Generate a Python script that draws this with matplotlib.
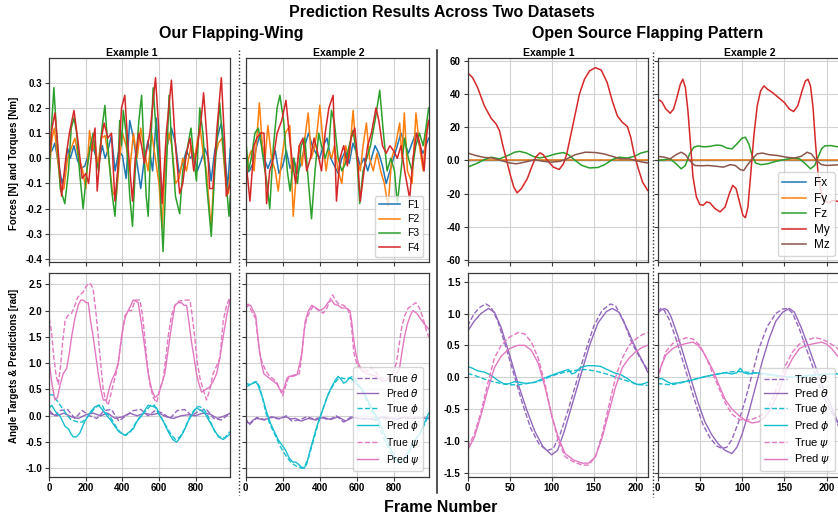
import matplotlib.pyplot as plt
import numpy as np
from matplotlib.lines import Line2D

plt.rcParams['font.family'] = ['Liberation Sans', 'DejaVu Sans']
plt.rcParams['axes.unicode_minus'] = False
plt.rcParams['mathtext.fontset'] = 'dejavusans'

# ---------------- data (frame, value) ----------------
# Our Flapping-Wing, forces, Example 1
ow1_f1 = [(0, 0.03), (15, 0.03), (30, 0.06), (50, -0.02), (70, -0.1), (85, -0.06), (100, 0.04), (115, 0.0),
          (135, 0.05), (155, -0.01), (175, -0.04), (195, -0.03), (215, 0.02), (230, 0.06), (250, 0.02),
          (270, -0.02), (290, 0.05), (305, 0.0), (320, 0.03), (340, 0.09), (360, -0.05), (380, 0.03),
          (400, 0.01), (420, -0.08), (440, 0.15), (460, 0.08), (480, -0.02), (500, -0.12), (520, 0.0),
          (540, 0.07), (565, -0.05), (585, 0.16), (600, 0.0), (620, -0.15), (645, 0.05), (668, 0.12),
          (690, 0.06), (710, -0.06), (730, -0.02), (750, 0.03), (770, 0.0), (790, 0.02), (810, -0.05),
          (830, -0.01), (850, 0.04), (870, 0.0), (885, -0.09), (905, 0.03), (925, 0.1), (941, 0.14),
          (960, 0.02), (975, -0.12), (990, 0.04)]
ow1_f2 = [(0, -0.05), (15, 0.08), (28, 0.12), (45, 0.0), (65, -0.13), (80, -0.12), (100, 0.0), (120, 0.04),
          (140, 0.08), (160, 0.0), (180, -0.04), (200, -0.12), (220, 0.11), (235, 0.03), (250, 0.07),
          (265, -0.03), (285, 0.08), (305, 0.09), (325, 0.0), (345, -0.13), (365, -0.16), (385, 0.0),
          (400, 0.1), (420, 0.05), (440, -0.05), (460, 0.1), (480, 0.0), (500, 0.12), (515, 0.05),
          (540, -0.05), (560, 0.1), (580, 0.0), (600, -0.1), (617, -0.28), (635, 0.0), (655, 0.1),
          (670, 0.05), (690, -0.1), (710, -0.08), (730, 0.0), (750, -0.05), (775, 0.05), (795, 0.0),
          (810, 0.07), (825, 0.12), (845, 0.0), (860, -0.05), (885, -0.28), (905, 0.0), (925, 0.06),
          (945, 0.08), (965, -0.1), (980, -0.14), (990, -0.05)]
ow1_f3 = [(0, -0.1), (10, 0.1), (25, 0.28), (40, 0.1), (60, -0.12), (85, -0.18), (105, -0.05), (120, 0.12),
          (135, 0.16), (150, 0.1), (165, -0.05), (185, -0.2), (205, -0.05), (225, 0.05), (240, 0.1),
          (255, 0.0), (270, -0.05), (285, 0.1), (304, 0.21), (320, 0.05), (340, -0.12), (359, -0.23),
          (375, -0.05), (385, 0.15), (395, 0.05), (405, 0.19), (420, 0.1), (440, -0.15), (455, -0.27),
          (470, -0.05), (490, 0.15), (505, 0.25), (520, 0.0), (530, -0.15), (541, -0.23), (555, 0.05),
          (568, 0.28), (585, 0.1), (605, -0.1), (622, -0.37), (640, -0.05), (655, 0.25), (670, 0.05),
          (690, -0.15), (713, -0.22), (730, -0.05), (750, 0.02), (775, 0.12), (790, 0.0), (805, -0.09),
          (823, 0.2), (840, 0.1), (860, -0.1), (886, -0.31), (905, -0.05), (920, 0.1), (932, 0.22),
          (950, 0.05), (968, -0.1), (983, -0.23), (990, -0.15)]
ow1_f4 = [(0, 0.0), (15, 0.12), (31, 0.18), (50, 0.02), (67, -0.15), (90, 0.0), (110, 0.1), (135, 0.19),
          (160, 0.05), (180, -0.08), (200, -0.06), (215, -0.1), (235, 0.05), (250, 0.12), (262, -0.13),
          (285, 0.08), (300, 0.14), (320, 0.08), (340, 0.1), (359, -0.17), (380, 0.0), (395, 0.2),
          (413, 0.25), (430, 0.05), (455, -0.17), (470, 0.0), (490, 0.1), (505, 0.05), (520, -0.02),
          (550, 0.1), (581, 0.32), (600, 0.1), (617, -0.18), (640, 0.1), (668, 0.31), (690, 0.05),
          (713, -0.14), (730, -0.1), (750, 0.02), (770, 0.08), (790, -0.05), (810, 0.05), (830, 0.15),
          (844, 0.26), (865, 0.05), (877, -0.12), (895, -0.12), (915, 0.1), (941, 0.32), (960, 0.05),
          (968, -0.15), (990, -0.1)]

# Our Flapping-Wing, forces, Example 2
ow2_f1 = [(0, -0.06), (20, -0.05), (40, -0.02), (60, 0.05), (80, 0.1), (100, 0.0), (120, -0.04), (140, 0.0),
          (160, 0.03), (180, -0.06), (200, -0.03), (220, 0.03), (240, -0.04), (260, 0.0), (280, -0.06),
          (300, -0.02), (320, 0.05), (340, 0.1), (360, 0.05), (380, 0.02), (400, 0.0), (420, 0.05),
          (440, 0.08), (460, 0.0), (480, -0.03), (500, -0.06), (520, 0.0), (540, 0.03), (560, -0.02),
          (580, 0.06), (600, 0.02), (620, -0.03), (640, 0.0), (660, -0.05), (680, 0.0), (700, 0.05),
          (720, 0.02), (740, -0.03), (760, -0.1), (780, -0.05), (800, 0.0), (820, 0.05), (840, 0.1),
          (860, 0.06), (880, 0.02), (900, 0.06), (920, 0.1), (940, 0.05), (960, 0.02), (975, 0.05), (990, 0.08)]
ow2_f2 = [(0, -0.08), (15, 0.0), (30, 0.03), (45, -0.05), (60, 0.08), (74, 0.22), (90, 0.05), (105, 0.0),
          (120, 0.13), (140, 0.0), (160, -0.05), (176, -0.13), (195, 0.0), (215, 0.1), (239, 0.13),
          (257, -0.23), (275, -0.05), (290, 0.05), (305, -0.03), (320, 0.08), (338, 0.18), (355, 0.0),
          (370, 0.04), (385, 0.1), (401, 0.21), (420, 0.05), (435, -0.05), (450, 0.03), (465, 0.0),
          (480, 0.05), (500, -0.05), (520, -0.1), (540, 0.05), (560, 0.0), (581, 0.19), (600, 0.0),
          (620, -0.05), (635, 0.05), (653, 0.14), (670, 0.0), (690, -0.05), (710, 0.02), (730, -0.05),
          (750, -0.1), (770, -0.19), (790, 0.0), (810, 0.05), (833, 0.14), (845, 0.0), (858, 0.18),
          (875, -0.05), (900, -0.1), (921, 0.18), (940, 0.05), (960, -0.05), (975, 0.1), (990, 0.15)]
ow2_f3 = [(0, 0.08), (15, -0.05), (30, 0.0), (50, 0.1), (68, 0.12), (85, 0.05), (100, -0.03), (115, -0.1),
          (130, -0.2), (150, 0.05), (170, 0.2), (185, 0.25), (205, 0.15), (225, -0.05), (240, -0.13),
          (260, 0.0), (280, -0.1), (300, 0.05), (320, 0.08), (340, -0.1), (356, -0.24), (375, -0.05),
          (395, 0.1), (410, 0.05), (430, 0.0), (450, 0.05), (464, 0.19), (480, 0.14), (500, 0.0),
          (520, -0.05), (540, -0.02), (560, 0.05), (580, 0.11), (600, 0.02), (617, -0.18), (635, -0.05),
          (655, 0.0), (675, 0.05), (700, 0.15), (725, 0.27), (745, 0.1), (765, -0.05), (785, 0.0),
          (805, -0.05), (820, -0.18), (840, -0.05), (860, 0.08), (880, 0.0), (900, -0.05), (920, 0.05),
          (940, 0.1), (960, 0.05), (975, 0.12), (990, 0.2)]
ow2_f4 = [(0, 0.0), (23, -0.17), (45, 0.05), (60, 0.08), (80, 0.1), (99, 0.1), (113, -0.18), (130, -0.05),
          (150, 0.0), (170, 0.1), (195, 0.15), (218, 0.23), (235, 0.1), (250, 0.0), (270, -0.1), (290, 0.05),
          (310, 0.08), (330, -0.05), (350, 0.0), (370, 0.08), (390, 0.02), (410, -0.05), (430, 0.1),
          (450, 0.2), (473, 0.25), (491, -0.17), (510, 0.0), (530, 0.05), (550, -0.03), (570, 0.08),
          (590, 0.12), (605, 0.0), (620, -0.17), (640, -0.05), (660, 0.05), (680, 0.1), (705, 0.2),
          (720, 0.15), (740, 0.05), (760, 0.02), (780, 0.05), (800, 0.03), (820, 0.0), (840, 0.05),
          (860, -0.05), (887, -0.16), (905, 0.0), (925, 0.1), (945, 0.05), (965, -0.05), (980, 0.1), (990, 0.15)]

# Our Flapping-Wing, angles, Example 1
ow1_true_theta = [(0, 0.1), (30, 0.0), (60, 0.1), (100, 0.12), (140, -0.05), (180, 0.1), (220, 0.0),
                  (260, -0.05), (300, 0.1), (340, 0.12), (380, -0.1), (420, 0.0), (460, 0.1), (500, 0.12),
                  (540, 0.0), (580, 0.1), (620, 0.05), (660, -0.05), (700, 0.1), (740, 0.12), (780, 0.0),
                  (820, 0.1), (860, 0.12), (900, -0.05), (940, -0.08), (990, 0.05)]
ow1_pred_theta = [(0, 0.05), (40, 0.0), (80, 0.05), (120, -0.02), (160, -0.05), (200, 0.02), (240, 0.05),
                  (280, 0.0), (320, 0.05), (360, -0.05), (400, -0.02), (440, 0.05), (480, 0.0), (520, 0.05),
                  (560, 0.02), (600, 0.05), (640, -0.02), (680, -0.05), (720, 0.0), (760, 0.02), (800, 0.0),
                  (840, 0.05), (880, 0.03), (920, -0.05), (960, 0.0), (990, 0.05)]
ow1_true_phi = [(0, 0.4), (20, 0.4), (40, 0.3), (60, 0.2), (80, 0.1), (100, 0.0), (120, -0.08), (140, -0.1),
                (160, -0.12), (180, -0.12), (200, -0.05), (215, 0.0), (235, 0.08), (250, 0.15), (270, 0.2),
                (290, 0.2), (310, 0.05), (330, 0.0), (355, -0.15), (380, -0.28), (400, -0.35), (420, -0.37),
                (445, -0.3), (470, -0.15), (500, 0.0), (530, 0.1), (555, 0.2), (575, 0.2), (595, 0.05),
                (615, -0.05), (640, -0.2), (665, -0.35), (690, -0.45), (715, -0.4), (740, -0.25), (765, -0.05),
                (790, 0.1), (815, 0.18), (840, 0.15), (860, 0.05), (880, -0.1), (905, -0.3), (930, -0.4),
                (960, -0.42), (988, -0.3)]
ow1_pred_phi = [(0, 0.15), (13, 0.2), (30, 0.1), (45, 0.03), (58, 0.0), (72, -0.1), (86, -0.2), (105, -0.25),
                (120, -0.35), (131, -0.4), (149, -0.4), (168, -0.32), (182, -0.2), (195, -0.1), (213, 0.0),
                (231, 0.1), (250, 0.17), (268, 0.2), (282, 0.15), (295, 0.1), (315, 0.0), (335, -0.08),
                (359, -0.2), (380, -0.3), (414, -0.37), (440, -0.3), (459, -0.25), (480, -0.1), (505, 0.0),
                (525, 0.12), (541, 0.2), (565, 0.18), (587, 0.15), (605, 0.0), (623, -0.1), (650, -0.3),
                (675, -0.45), (696, -0.5), (715, -0.42), (735, -0.3), (760, -0.1), (785, 0.05), (805, 0.15),
                (830, 0.1), (851, 0.05), (875, -0.1), (900, -0.25), (925, -0.4), (951, -0.45), (970, -0.4),
                (988, -0.35)]
ow1_true_psi = [(0, 1.85), (12, 1.6), (25, 1.1), (38, 0.75), (49, 0.6), (60, 0.9), (73, 1.4), (86, 1.8),
                (100, 1.9), (122, 1.95), (140, 2.1), (155, 2.25), (168, 2.3), (185, 2.35), (200, 2.45),
                (215, 2.52), (228, 2.5), (240, 2.4), (254, 2.0), (268, 1.5), (281, 1.0), (295, 0.5), (308, 0.3),
                (322, 0.2), (336, 0.4), (350, 0.6), (365, 0.8), (377, 1.0), (395, 1.5), (414, 1.9), (432, 2.0),
                (450, 2.0), (470, 2.2), (485, 2.2), (496, 2.2), (510, 1.9), (522, 1.5), (535, 1.0), (550, 0.6),
                (568, 0.35), (587, 0.25), (605, 0.5), (623, 0.7), (637, 1.1), (650, 1.5), (668, 1.9), (687, 2.1),
                (710, 2.18), (740, 2.2), (769, 2.2), (782, 1.9), (795, 1.5), (810, 1.0), (825, 0.7), (842, 0.5),
                (860, 0.3), (878, 0.5), (896, 0.8), (915, 0.95), (933, 1.1), (951, 1.8), (970, 2.1), (988, 2.25)]
ow1_pred_psi = [(0, 1.0), (15, 0.6), (31, 0.3), (45, 0.35), (60, 0.6), (76, 0.8), (95, 0.9), (110, 1.2),
                (122, 1.5), (140, 1.85), (158, 2.1), (172, 2.2), (186, 2.2), (200, 2.15), (213, 2.15),
                (226, 1.8), (240, 1.5), (254, 1.15), (268, 0.8), (282, 0.5), (295, 0.3), (313, 0.3), (330, 0.55),
                (345, 0.7), (359, 0.8), (377, 1.0), (390, 1.35), (404, 1.7), (418, 1.9), (432, 2.0), (446, 2.1),
                (459, 2.2), (472, 2.18), (486, 2.15), (500, 1.85), (514, 1.5), (528, 1.15), (541, 0.8),
                (560, 0.5), (578, 0.35), (596, 0.4), (614, 0.6), (632, 0.8), (646, 1.15), (660, 1.5), (673, 1.8),
                (687, 2.1), (705, 2.15), (723, 2.15), (737, 2.1), (751, 2.1), (765, 1.75), (778, 1.4), (792, 1.1),
                (805, 0.8), (819, 0.6), (833, 0.45), (855, 0.5), (878, 0.55), (896, 0.65), (915, 0.8),
                (933, 1.1), (951, 1.5), (970, 1.9), (988, 2.2)]

# Our Flapping-Wing, angles, Example 2
ow2_true_theta = [(0, -0.05), (20, -0.17), (40, -0.1), (60, -0.03), (100, -0.07), (140, -0.03), (180, -0.06),
                  (220, 0.0), (250, -0.1), (290, -0.08), (330, -0.02), (370, -0.06), (410, -0.03), (450, -0.08),
                  (490, 0.0), (530, -0.12), (570, -0.02), (610, -0.05), (650, -0.07), (700, -0.04), (750, -0.05),
                  (800, -0.05), (850, -0.04), (900, -0.05), (950, -0.04), (990, -0.05)]
ow2_pred_theta = [(0, -0.1), (20, -0.15), (40, -0.08), (60, -0.05), (100, -0.08), (140, -0.02), (180, -0.05),
                  (220, -0.02), (240, -0.06), (270, -0.05), (300, -0.1), (340, -0.05), (380, -0.08), (420, -0.03),
                  (460, -0.07), (500, -0.02), (540, -0.1), (580, -0.03), (620, -0.05), (660, -0.05), (700, -0.08),
                  (740, -0.02), (780, -0.05), (820, -0.06), (860, -0.03), (900, -0.05), (940, -0.04), (990, -0.05)]
ow2_true_phi = [(0, 0.55), (20, 0.58), (40, 0.62), (60, 0.65), (75, 0.55), (90, 0.35), (110, 0.05), (130, -0.15),
                (150, -0.3), (170, -0.45), (190, -0.6), (210, -0.72), (230, -0.82), (250, -0.9), (270, -0.95),
                (290, -0.98), (305, -1.0), (320, -0.95), (340, -0.8), (360, -0.55), (380, -0.3), (400, -0.05),
                (420, 0.15), (440, 0.35), (460, 0.5), (480, 0.62), (500, 0.7), (520, 0.72), (540, 0.7),
                (560, 0.72), (580, 0.75), (600, 0.65), (630, 0.48), (660, 0.25), (690, 0.05), (720, -0.2),
                (750, -0.45), (780, -0.68), (810, -0.85), (835, -0.9), (860, -0.82), (890, -0.65), (920, -0.45),
                (950, -0.3), (975, -0.1), (990, 0.0)]
ow2_pred_phi = [(0, 0.62), (15, 0.6), (30, 0.6), (50, 0.65), (65, 0.6), (80, 0.45), (95, 0.3), (115, 0.05),
                (135, -0.15), (155, -0.3), (175, -0.45), (195, -0.55), (215, -0.65), (235, -0.8), (255, -0.88),
                (270, -0.88), (285, -0.92), (300, -0.97), (315, -1.0), (330, -0.92), (345, -0.7), (365, -0.45),
                (385, -0.2), (405, 0.0), (425, 0.2), (445, 0.4), (465, 0.55), (485, 0.68), (500, 0.75),
                (515, 0.7), (530, 0.62), (545, 0.65), (560, 0.72), (575, 0.7), (600, 0.6), (630, 0.5),
                (660, 0.3), (690, 0.1), (720, -0.1), (750, -0.35), (780, -0.6), (810, -0.8), (830, -0.88),
                (850, -0.85), (880, -0.7), (910, -0.5), (940, -0.35), (965, -0.15), (990, 0.05)]
ow2_true_psi = [(0, 2.1), (15, 2.12), (30, 2.0), (45, 1.9), (54, 1.85), (65, 1.5), (75, 1.2), (90, 1.0),
                (110, 0.85), (130, 0.75), (150, 0.7), (170, 0.62), (185, 0.5), (200, 0.38), (215, 0.55),
                (228, 0.7), (240, 0.75), (265, 0.78), (290, 0.8), (305, 1.2), (315, 1.6), (330, 1.85), (350, 2.0),
                (365, 2.08), (395, 2.0), (420, 1.95), (440, 2.05), (455, 2.2), (470, 2.3), (485, 2.2), (505, 2.12),
                (530, 2.1), (550, 2.05), (565, 1.9), (575, 1.6), (585, 1.2), (600, 1.0), (620, 0.9), (660, 0.85),
                (680, 0.92), (700, 0.85), (720, 0.75), (745, 0.7), (770, 0.72), (795, 0.8), (815, 1.0), (832, 1.4),
                (845, 1.7), (860, 1.9), (880, 2.05), (900, 2.1), (920, 2.15), (940, 2.05), (960, 1.85),
                (975, 1.65), (990, 1.5)]
ow2_pred_psi = [(0, 2.05), (15, 2.1), (27, 2.1), (40, 2.0), (54, 1.9), (63, 1.6), (72, 1.3), (85, 1.0), (98, 0.8),
                (115, 0.75), (134, 0.7), (152, 0.65), (170, 0.6), (185, 0.5), (197, 0.45), (210, 0.55),
                (222, 0.7), (233, 0.75), (255, 0.75), (277, 0.78), (290, 0.95), (304, 1.2), (313, 1.5),
                (322, 1.8), (340, 2.0), (358, 2.1), (380, 2.05), (403, 2.0), (425, 2.05), (445, 2.15), (465, 2.2),
                (480, 2.12), (500, 2.1), (520, 2.05), (540, 2.05), (564, 2.0), (573, 1.8), (582, 1.5), (595, 1.2),
                (609, 1.0), (630, 0.85), (653, 0.8), (680, 0.78), (707, 0.75), (725, 0.7), (743, 0.65),
                (770, 0.68), (797, 0.7), (815, 0.8), (832, 0.9), (845, 1.2), (859, 1.5), (875, 1.75), (890, 1.9),
                (904, 2.0), (925, 1.95), (945, 1.85), (965, 1.75), (990, 1.65)]

# Open Source Flapping Pattern, forces/torques, Example 1
os1_fx = [(0, 0.0), (107, 0.1), (214, 0.0)]
os1_fy = [(0, 0.4), (107, 0.4), (214, 0.4)]
os1_fz = [(0, -4), (10, -2), (20, 0.5), (28, 2), (38, 1), (48, 3), (56, 5), (62, 5.5), (70, 4.5), (78, 2.5),
          (86, 1.5), (95, 2.5), (105, 4), (114, 4.8), (120, 3.5), (128, 0), (136, -3), (145, -4.5), (155, -4.2),
          (163, -2.5), (172, 0.5), (180, 2), (190, 1.5), (198, 2.5), (206, 4.5), (214, 5.5)]
os1_my = [(0, 53), (6, 50), (12, 44), (20, 33), (28, 25.5), (34, 22), (38, 18), (42, 9), (46, 1), (51, -9),
          (55, -16), (59, -19.5), (64, -17), (71, -11), (77, -3), (81, 2), (86, 4.6), (90, 3.5), (95, 0),
          (102, -4), (109, -5.4), (114, -2), (118, 4), (123, 16), (128, 28), (133, 40), (139, 49), (145, 54),
          (152, 56), (159, 54.5), (166, 47), (172, 36), (178, 27), (184, 23), (190, 20.5), (194, 14),
          (198, 4), (203, -5), (208, -13), (214, -18)]
os1_mz = [(0, 4.5), (10, 3), (20, 1.8), (30, 1.5), (40, 0), (50, -1.5), (58, -2), (68, -1), (80, 0.5), (90, -0.5),
          (100, -1), (110, -0.5), (118, 1), (128, 3.5), (140, 5), (152, 4.8), (162, 4), (172, 2.5), (182, 1),
          (192, 1), (200, 0), (208, -1), (214, -1.5)]

# Open Source Flapping Pattern, forces/torques, Example 2
os2_fx = [(0, 0.0), (108, 0.1), (216, 0.0)]
os2_fy = [(0, 0.4), (108, 0.4), (216, 0.4)]
os2_fz = [(0, 0), (8, 0.5), (15, 1), (22, -2), (28, -5), (33, -3), (38, 4), (43, 8), (48, 8.8), (55, 8.2),
          (62, 8.5), (70, 9.3), (76, 9), (82, 7.5), (88, 7), (94, 10), (100, 13.5), (104, 14), (108, 10),
          (112, 3), (116, -1.5), (122, -2.5), (130, -2), (140, -0.5), (150, 0.5), (160, 1.5), (168, 1),
          (175, -2), (181, -5), (186, -3), (190, 2), (194, 7), (198, 8.8), (205, 9), (216, 8)]
os2_my = [(0, 37), (5, 35.5), (10, 31), (15, 28.5), (19, 31), (23, 38), (27, 46), (30, 49), (33, 44), (36, 30),
          (39, 10), (42, -10), (46, -22), (50, -26.5), (54, -27), (58, -25), (62, -25.5), (68, -29), (74, -31),
          (80, -28), (85, -20), (89, -15), (93, -17), (97, -25), (101, -33), (104, -34.5), (107, -28),
          (110, -10), (114, 15), (118, 33), (122, 42), (126, 45), (130, 43), (136, 41), (143, 38), (150, 35),
          (156, 31), (161, 29.5), (166, 33), (171, 42), (175, 48), (178, 49), (181, 45), (184, 32), (187, 10),
          (190, -8), (194, -20), (198, -24.5), (203, -25.5), (208, -24), (216, -25)]
os2_mz = [(0, 2.5), (8, 2), (15, 1), (22, 3.5), (28, 5), (33, 3.5), (38, 0), (44, -3), (52, -3.2), (60, -3),
          (70, -3.5), (78, -4), (86, -2.5), (92, -3), (98, -5.5), (102, -6), (106, -3), (112, 1), (118, 4),
          (124, 4.5), (132, 3.5), (142, 3), (152, 2), (162, 1.5), (170, 2.5), (177, 5), (182, 4), (188, 0),
          (194, -2.5), (200, -3), (207, -2.8), (216, -2.5)]

# Open Source Flapping Pattern, angles, Example 1
os1_true_theta = [(0, 0.8), (8, 1.0), (15, 1.1), (22, 1.15), (28, 1.1), (36, 0.88), (45, 0.5), (55, 0.05),
                  (65, -0.4), (75, -0.8), (85, -1.05), (95, -1.15), (102, -1.12), (110, -0.9), (120, -0.5),
                  (130, -0.05), (140, 0.4), (150, 0.8), (160, 1.05), (170, 1.15), (176, 1.12), (185, 0.9),
                  (195, 0.55), (205, 0.3), (214, 0.12)]
os1_pred_theta = [(0, 0.72), (8, 0.88), (16, 1.0), (25, 1.08), (32, 1.02), (40, 0.78), (50, 0.35), (60, -0.1),
                  (70, -0.5), (80, -0.85), (90, -1.1), (100, -1.22), (107, -1.15), (115, -0.85), (125, -0.4),
                  (135, 0.05), (145, 0.5), (155, 0.85), (165, 1.03), (172, 1.08), (180, 1.02), (190, 0.75),
                  (200, 0.45), (208, 0.25), (214, 0.08)]
os1_true_phi = [(0, 0.06), (10, 0.02), (20, -0.03), (30, -0.07), (40, -0.1), (50, -0.12), (60, -0.12), (70, -0.1),
                (80, -0.08), (90, -0.04), (100, 0.02), (110, 0.06), (120, 0.09), (130, 0.11), (140, 0.12),
                (150, 0.1), (160, 0.07), (170, 0.03), (180, -0.02), (190, -0.06), (200, -0.1), (207, -0.12),
                (214, -0.13)]
os1_pred_phi = [(0, 0.17), (6, 0.14), (12, 0.1), (20, 0.08), (28, 0.03), (36, -0.05), (44, -0.11), (50, -0.1),
                (56, -0.07), (62, -0.08), (70, -0.1), (80, -0.08), (90, -0.02), (100, 0.03), (108, 0.07),
                (115, 0.1), (120, 0.12), (124, 0.05), (128, 0.07), (134, 0.15), (142, 0.18), (150, 0.18),
                (158, 0.17), (166, 0.12), (174, 0.07), (182, 0.04), (190, -0.02), (198, -0.1), (204, -0.12),
                (210, -0.1), (214, -0.08)]
os1_true_psi = [(0, -1.1), (8, -0.9), (16, -0.55), (24, -0.1), (32, 0.3), (40, 0.5), (50, 0.63), (60, 0.7),
                (68, 0.68), (76, 0.55), (84, 0.3), (92, -0.1), (100, -0.6), (108, -1.0), (116, -1.25),
                (126, -1.33), (136, -1.38), (144, -1.38), (152, -1.25), (160, -0.9), (168, -0.45), (176, 0.0),
                (184, 0.3), (192, 0.5), (200, 0.6), (208, 0.67), (214, 0.7)]
os1_pred_psi = [(0, -1.15), (8, -0.95), (16, -0.6), (24, -0.2), (32, 0.15), (40, 0.33), (50, 0.45), (60, 0.5),
                (68, 0.5), (76, 0.42), (84, 0.22), (92, -0.15), (100, -0.6), (108, -0.95), (116, -1.2),
                (126, -1.3), (136, -1.35), (144, -1.35), (152, -1.25), (160, -0.95), (168, -0.55), (176, -0.15),
                (184, 0.15), (192, 0.3), (200, 0.4), (208, 0.47), (214, 0.5)]

# Open Source Flapping Pattern, angles, Example 2
os2_true_theta = [(0, 1.03), (4, 1.08), (8, 1.05), (14, 0.9), (22, 0.6), (30, 0.25), (38, -0.1), (46, -0.45),
                  (54, -0.75), (62, -0.95), (70, -1.08), (76, -1.12), (82, -1.1), (88, -0.98), (96, -0.7),
                  (104, -0.35), (112, 0.05), (120, 0.45), (130, 0.8), (140, 1.0), (148, 1.07), (154, 1.08),
                  (160, 1.0), (168, 0.75), (176, 0.45), (184, 0.15), (192, -0.15), (200, -0.4), (208, -0.6),
                  (216, -0.82)]
os2_pred_theta = [(0, 1.0), (4, 1.05), (8, 1.08), (12, 1.05), (16, 0.95), (24, 0.65), (32, 0.3), (40, -0.05),
                  (48, -0.4), (56, -0.7), (64, -0.9), (72, -1.05), (80, -1.15), (88, -1.2), (94, -1.1), (100, -0.9),
                  (108, -0.55), (116, -0.15), (124, 0.25), (132, 0.6), (140, 0.88), (148, 1.02), (156, 1.08),
                  (162, 1.02), (170, 0.78), (178, 0.5), (186, 0.2), (194, -0.1), (202, -0.35), (210, -0.6),
                  (216, -0.8)]
os2_true_phi = [(0, -0.1), (8, -0.11), (16, -0.12), (24, -0.1), (34, -0.07), (44, -0.03), (54, 0.0), (64, 0.03),
                (74, 0.06), (84, 0.08), (94, 0.09), (104, 0.08), (114, 0.07), (124, 0.05), (134, 0.03),
                (146, 0.01), (158, 0.0), (170, 0.01), (182, 0.02), (194, 0.04), (206, 0.05), (216, 0.06)]
os2_pred_phi = [(0, -0.03), (5, -0.02), (10, -0.06), (16, -0.1), (24, -0.09), (32, -0.07), (40, -0.05),
                (48, -0.02), (56, 0.01), (64, 0.03), (72, 0.05), (80, 0.07), (88, 0.05), (94, 0.07), (98, 0.14),
                (102, 0.07), (108, 0.05), (116, 0.07), (124, 0.06), (134, 0.04), (144, 0.02), (156, 0.0),
                (168, 0.01), (180, 0.03), (192, 0.04), (204, 0.05), (216, 0.05)]
os2_true_psi = [(0, -0.05), (5, 0.2), (10, 0.4), (18, 0.53), (26, 0.58), (34, 0.62), (42, 0.6), (50, 0.5),
                (58, 0.3), (64, 0.1), (72, -0.15), (80, -0.4), (88, -0.58), (96, -0.66), (104, -0.68),
                (112, -0.66), (120, -0.62), (128, -0.55), (136, -0.35), (144, -0.05), (152, 0.2), (160, 0.4),
                (168, 0.52), (176, 0.58), (186, 0.62), (194, 0.6), (202, 0.55), (210, 0.48), (216, 0.42)]
os2_pred_psi = [(0, 0.0), (5, 0.2), (10, 0.35), (18, 0.45), (26, 0.5), (34, 0.53), (42, 0.55), (48, 0.5),
                (54, 0.4), (60, 0.25), (66, 0.1), (72, -0.1), (80, -0.35), (88, -0.5), (96, -0.6), (104, -0.68),
                (112, -0.72), (120, -0.7), (128, -0.62), (136, -0.45), (144, -0.2), (152, 0.1), (160, 0.3),
                (168, 0.45), (176, 0.5), (186, 0.53), (194, 0.55), (200, 0.52), (206, 0.45), (212, 0.35),
                (216, 0.3)]

# ticks
ow_xticks = [0, 200, 400, 600, 800]
os_xticks = [0, 50, 100, 150, 200]
ow_force_ticks = [-0.4, -0.3, -0.2, -0.1, 0.0, 0.1, 0.2, 0.3]
ow_force_labels = ['-0.4', '-0.3', '-0.2', '-0.1', '0.0', '0.1', '0.2', '0.3']
ow_angle_ticks = [-1.0, -0.5, 0.0, 0.5, 1.0, 1.5, 2.0, 2.5]
ow_angle_labels = ['-1.0', '-0.5', '0.0', '0.5', '1.0', '1.5', '2.0', '2.5']
os_force_ticks = [-60, -40, -20, 0, 20, 40, 60]
os_force_labels = ['-60', '-40', '-20', '0.0', '20', '40', '60']
os_angle_ticks = [-1.5, -1.0, -0.5, 0.0, 0.5, 1.0, 1.5]
os_angle_labels = ['-1.5', '-1.0', '-0.5', '0.0', '0.5', '1.0', '1.5']

# ---------------- figure ----------------
W, H = 838, 517
fig = plt.figure(figsize=(W / 100, H / 100), dpi=100)


def fx(p):
    return p / W


def fy(p):
    return 1 - p / H


def panel(left, right, top, bottom):
    return fig.add_axes([fx(left), fy(bottom), fx(right) - fx(left), fy(top) - fy(bottom)])


def style(ax, xlim, ylim, xticks, yticks, ylabels, show_x, show_y):
    ax.set_xlim(*xlim)
    ax.set_ylim(*ylim)
    ax.set_xticks(xticks)
    ax.set_yticks(yticks)
    ax.set_xticklabels([str(t) for t in xticks] if show_x else [''] * len(xticks),
                       fontweight='bold', fontsize=7)
    ax.set_yticklabels(ylabels if show_y else [''] * len(yticks), fontweight='bold', fontsize=7)
    ax.grid(True, color='#d2d2d2', lw=0.8)
    ax.set_axisbelow(True)
    for s in ax.spines.values():
        s.set_color('#3a3a3a')
        s.set_linewidth(0.9)
    ax.tick_params(length=3, width=0.8, color='#3a3a3a', pad=2)


def draw(ax, series, color, ls='-', label=None, lw=1.1):
    x, y = np.array(series, dtype=float).T
    ax.plot(x, y, color=color, ls=ls, lw=lw, label=label)


def legend(ax, size, spacing):
    ax.legend(loc='lower right', fontsize=size, handlelength=2.0, labelspacing=spacing,
              borderpad=0.4, handletextpad=0.7, edgecolor='#cccccc')


C = {'blue': '#1f77b4', 'orange': '#ff7f0e', 'green': '#2ca02c', 'red': '#d62728',
     'brown': '#8c564b', 'purple': '#9467bd', 'cyan': '#17becf', 'pink': '#e377c2'}

top_row = (58, 262)
bot_row = (272.5, 476.5)
cols = [(49.3, 230.3), (245.7, 428.7), (467.5, 648.0), (657.5, 840.5)]

ow_flim = (-0.4115, 0.398)
ow_alim = (-1.154, 2.724)
os_flim = (-61.2, 61.8)
os_alim = (-1.56, 1.644)

# Our Flapping-Wing forces
for i, (s1, s2, s3, s4) in enumerate([(ow1_f1, ow1_f2, ow1_f3, ow1_f4), (ow2_f1, ow2_f2, ow2_f3, ow2_f4)]):
    ax = panel(cols[i][0], cols[i][1], *top_row)
    draw(ax, s1, C['blue'], label='F1')
    draw(ax, s2, C['orange'], label='F2')
    draw(ax, s3, C['green'], label='F3')
    draw(ax, s4, C['red'], label='F4')
    style(ax, (0, 990), ow_flim, ow_xticks, ow_force_ticks, ow_force_labels, False, i == 0)
    if i == 1:
        legend(ax, 7.5, 0.4)

# angles (both datasets)
angle_sets = [
    (ow1_true_theta, ow1_pred_theta, ow1_true_phi, ow1_pred_phi, ow1_true_psi, ow1_pred_psi),
    (ow2_true_theta, ow2_pred_theta, ow2_true_phi, ow2_pred_phi, ow2_true_psi, ow2_pred_psi),
    (os1_true_theta, os1_pred_theta, os1_true_phi, os1_pred_phi, os1_true_psi, os1_pred_psi),
    (os2_true_theta, os2_pred_theta, os2_true_phi, os2_pred_phi, os2_true_psi, os2_pred_psi),
]
angle_labels = ['True $\\theta$', 'Pred $\\theta$', 'True $\\phi$', 'Pred $\\phi$', 'True $\\psi$', 'Pred $\\psi$']
angle_colors = [C['purple'], C['purple'], C['cyan'], C['cyan'], C['pink'], C['pink']]

for i, sets in enumerate(angle_sets):
    ax = panel(cols[i][0], cols[i][1], *bot_row)
    for j, s in enumerate(sets):
        draw(ax, s, angle_colors[j], ls='--' if j % 2 == 0 else '-', label=angle_labels[j], lw=1.0)
    if i < 2:
        style(ax, (0, 990), ow_alim, ow_xticks, ow_angle_ticks, ow_angle_labels, True, i == 0)
    else:
        xl = (0, 214.5) if i == 2 else (0, 216.5)
        style(ax, xl, os_alim, os_xticks, os_angle_ticks, os_angle_labels, True, i == 2)
    if i == 1:
        legend(ax, 7.5, 0.3)
    if i == 3:
        legend(ax, 8, 0.25)

# Open Source forces / torques
for i, (a, b, c, d, e) in enumerate([(os1_fx, os1_fy, os1_fz, os1_my, os1_mz),
                                     (os2_fx, os2_fy, os2_fz, os2_my, os2_mz)]):
    ax = panel(cols[i + 2][0], cols[i + 2][1], *top_row)
    draw(ax, a, C['blue'], label='Fx')
    draw(ax, b, C['orange'], label='Fy')
    draw(ax, c, C['green'], label='Fz')
    draw(ax, d, C['red'], label='My')
    draw(ax, e, C['brown'], label='Mz')
    xl = (0, 214.5) if i == 0 else (0, 216.5)
    style(ax, xl, os_flim, os_xticks, os_force_ticks, os_force_labels, False, i == 0)
    if i == 1:
        legend(ax, 8.5, 0.3)

# separators
fig.add_artist(Line2D([fx(238.5)] * 2, [fy(50), fy(495)], transform=fig.transFigure,
                      color='#333333', lw=1, ls=(0, (1, 1.5))))
fig.add_artist(Line2D([fx(652.5)] * 2, [fy(52), fy(497)], transform=fig.transFigure,
                      color='#333333', lw=1, ls=(0, (1, 1.5))))
fig.add_artist(Line2D([fx(437.3)] * 2, [fy(50), fy(493)], transform=fig.transFigure,
                      color='#222222', lw=1.1))

# texts
fig.text(fx(441.7), fy(12.5), 'Prediction Results Across Two Datasets', ha='center', va='center',
         fontsize=11.5, fontweight='bold')
fig.text(fx(231.5), fy(33.5), 'Our Flapping-Wing', ha='center', va='center', fontsize=11.5, fontweight='bold')
fig.text(fx(647.5), fy(33.5), 'Open Source Flapping Pattern', ha='center', va='center',
         fontsize=11.5, fontweight='bold')
fig.text(fx(131.5), fy(52.5), 'Example 1', ha='center', va='center', fontsize=7.5, fontweight='bold')
fig.text(fx(339), fy(52.5), 'Example 2', ha='center', va='center', fontsize=7.5, fontweight='bold')
fig.text(fx(549), fy(52.5), 'Example 1', ha='center', va='center', fontsize=7.5, fontweight='bold')
fig.text(fx(749.5), fy(52.5), 'Example 2', ha='center', va='center', fontsize=7.5, fontweight='bold')
fig.text(fx(441), fy(507), 'Frame Number', ha='center', va='center', fontsize=11.5, fontweight='bold')
fig.text(fx(14), fy(163), 'Forces [N] and Torques [Nm]', ha='center', va='center', rotation=90,
         fontsize=7, fontweight='bold')
fig.text(fx(14), fy(366), 'Angle Targets & Predictions [rad]', ha='center', va='center', rotation=90,
         fontsize=7, fontweight='bold')

fig.savefig('out.png', dpi=100)
